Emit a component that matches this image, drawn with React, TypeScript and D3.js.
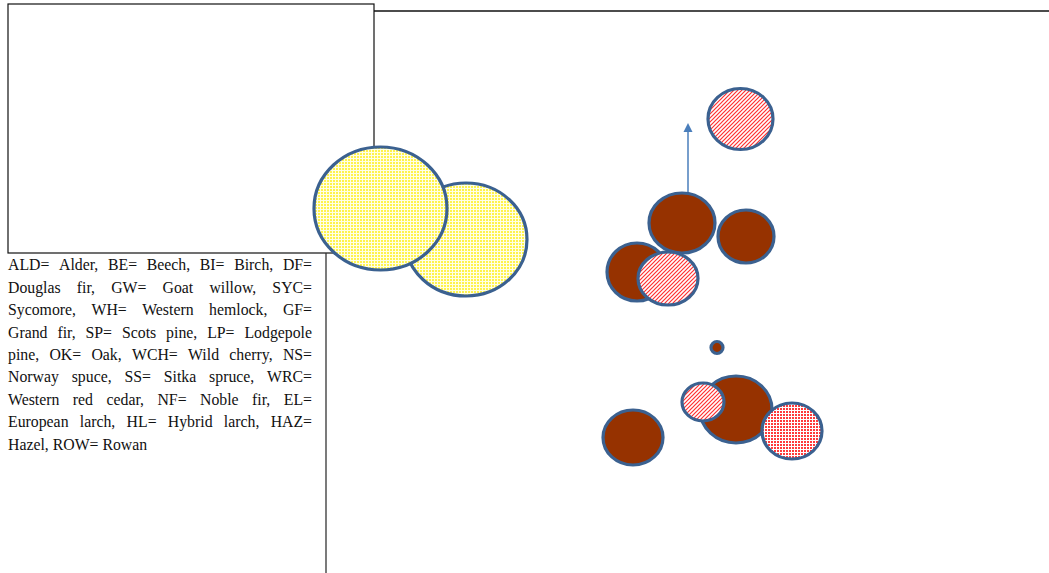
import React from "react";
import * as d3 from "d3";

const W = 1049;
const H = 573;

// Ordination bubbles, in plot-local units (origin at the plot's top-left corner)
const bubbleNames = ["Y1", "Y2", "RH1", "BR1", "BR2", "BR3", "RH2", "DOT", "BR4", "RH3", "RD1", "BR5"];
const bubbleX = [140, 54.5, 414.5, 356, 420, 311, 342, 391, 410, 377, 466, 307];
const bubbleY = [228.5, 197.5, 108, 212, 225.5, 261, 267.5, 336.5, 398.5, 391, 420, 426.5];
const bubbleRx = [61, 66.5, 32.5, 33, 28, 30, 30, 6, 36, 21, 30, 30];
const bubbleRy = [56.5, 61.5, 30.5, 30, 26.5, 29, 26.5, 6, 33.5, 19, 28, 27.5];
const bubbleFill = ["yellowDots", "yellowDots", "redHatch", "brown", "brown", "brown", "redHatch", "brown", "brown", "redHatch", "redDots", "brown"];

// Arrow (biplot vector) in plot-local units
const arrowFrom = [362, 182];
const arrowTo = [362, 112];

const legendLines = [
  "ALD= Alder, BE= Beech, BI= Birch, DF=",
  "Douglas fir, GW= Goat willow, SYC=",
  "Sycomore, WH= Western hemlock, GF=",
  "Grand fir, SP= Scots pine, LP= Lodgepole",
  "pine, OK= Oak, WCH= Wild cherry, NS=",
  "Norway spuce, SS= Sitka spruce, WRC=",
  "Western red cedar, NF= Noble fir, EL=",
  "European larch, HL= Hybrid larch, HAZ=",
  "Hazel, ROW= Rowan",
];

const FONT_SIZE = 15.8;
const FONT = `${FONT_SIZE}px "Liberation Serif", "Times New Roman", serif`;

let ctx: CanvasRenderingContext2D | null = null;
function measure(t: string): number {
  if (!ctx) {
    const c = document.createElement("canvas");
    ctx = c.getContext("2d");
  }
  if (!ctx) return t.length * 7;
  ctx.font = FONT;
  return ctx.measureText(t).width;
}

const plotLeft = 326;
const plotTop = 11;
const x = d3.scaleLinear().domain([0, W - plotLeft]).range([plotLeft, W]);
const y = d3.scaleLinear().domain([0, H - plotTop]).range([plotTop, H]);

const STROKE = "#3b6190";
const BROWN = "#963200";

export default function App() {
  const textLeft = 8;
  const textRight = 312;
  const baseline0 = 270.3;
  const lineGap = 22.4;

  const fillFor = (f: string) =>
    f === "brown" ? BROWN : f === "yellowDots" ? "url(#yellowDots)" : f === "redHatch" ? "url(#redHatch)" : "url(#redDots)";

  return (
    <svg
      width={W}
      height={H}
      style={{ position: "absolute", left: 0, top: 0, background: "#fff" }}
    >
      <defs>
        <pattern id="yellowDots" width={3} height={3} patternUnits="userSpaceOnUse">
          <rect width={3} height={3} fill="#ffffe6" />
          <rect width={2} height={2} fill="#fff34d" />
        </pattern>
        <pattern id="redHatch" width={4} height={4} patternUnits="userSpaceOnUse">
          <rect width={4} height={4} fill="#ffffff" />
          <path d="M-1,1 L1,-1 M0,4 L4,0 M3,5 L5,3" stroke="#ff3030" strokeWidth={1.2} />
        </pattern>
        <pattern id="redDots" width={3} height={3} patternUnits="userSpaceOnUse">
          <rect width={3} height={3} fill="#ffffff" />
          <rect width={2} height={2} fill="#ff3a3a" />
        </pattern>
      </defs>

      {/* legend box (upper left) */}
      <rect x={8} y={4} width={366} height={249} fill="#fff" stroke="#111" strokeWidth={1.2} />
      {/* plot frame lines */}
      <line x1={374} y1={y(0)} x2={W} y2={y(0)} stroke="#111" strokeWidth={1.3} />
      <line x1={x(0)} y1={253} x2={x(0)} y2={H} stroke="#333" strokeWidth={1.3} />

      {/* arrow */}
      <line
        x1={x(arrowFrom[0])}
        y1={y(arrowFrom[1])}
        x2={x(arrowTo[0])}
        y2={y(arrowTo[1]) + 8}
        stroke="#4a7ebb"
        strokeWidth={1.5}
      />
      <path
        d={`M${x(arrowTo[0])},${y(arrowTo[1])} L${x(arrowTo[0]) - 4.5},${y(arrowTo[1]) + 9} L${x(arrowTo[0]) + 4.5},${y(arrowTo[1]) + 9} Z`}
        fill="#4a7ebb"
      />

      {/* bubbles */}
      {bubbleNames.map((n, i) => (
        <ellipse
          key={n}
          cx={x(bubbleX[i])}
          cy={y(bubbleY[i])}
          rx={x(bubbleRx[i]) - x(0)}
          ry={y(bubbleRy[i]) - y(0)}
          fill={fillFor(bubbleFill[i])}
          stroke={STROKE}
          strokeWidth={3.2}
        />
      ))}

      {/* legend text, justified */}
      <g fontFamily={'"Liberation Serif", "Times New Roman", serif'} fontSize={FONT_SIZE} fill="#111">
        {legendLines.map((line, li) => {
          const words = line.split(" ");
          const ws = words.map(measure);
          const total = ws.reduce((a, b) => a + b, 0);
          const last = li === legendLines.length - 1;
          const gap = last ? measure(" ") : (textRight - textLeft - total) / (words.length - 1);
          let cur = textLeft;
          return words.map((w, wi) => {
            const xx = cur;
            cur += ws[wi] + gap;
            return (
              <text key={`${li}-${wi}`} x={xx} y={baseline0 + li * lineGap}>
                {w}
              </text>
            );
          });
        })}
      </g>
    </svg>
  );
}
